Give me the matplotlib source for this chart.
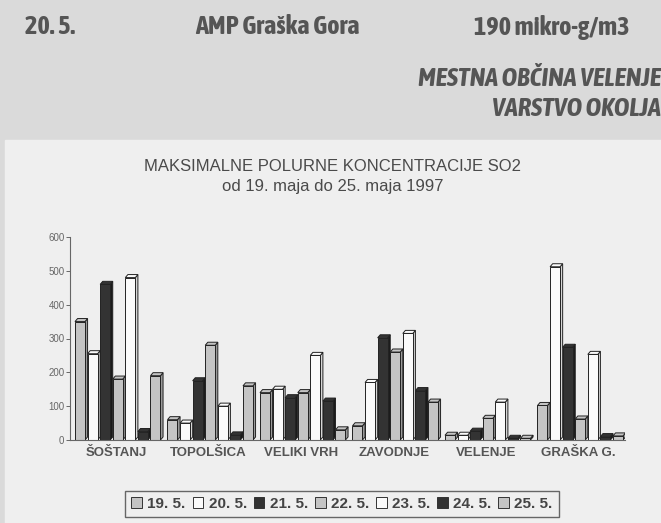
#!/usr/bin/env python3
"""
Maximum half-hour SO2 concentrations, 19-25 May 1997 (newspaper chart).
Pseudo-3D grouped bars drawn with plain matplotlib bars plus side/top faces.
"""

import matplotlib
matplotlib.use('Agg')
import matplotlib.pyplot as plt
from matplotlib.patches import Polygon, Rectangle, Patch
from matplotlib import font_manager

plt.rcParams['font.family'] = ['Liberation Sans', 'DejaVu Sans']

# condensed face for the headings, if one is installed
narrow = None
for f in font_manager.fontManager.ttflist:
    if ('Narrow' in f.name or 'Condensed' in f.name) and f.weight in ('bold', 700):
        narrow = f.name
        break
head_family = [narrow, 'Liberation Sans'] if narrow else ['DejaVu Sans']

# --- data ---
stations = ['ŠOŠTANJ', 'TOPOLŠICA', 'VELIKI VRH', 'ZAVODNJE', 'VELENJE', 'GRAŠKA G.']
days = ['19. 5.', '20. 5.', '21. 5.', '22. 5.', '23. 5.', '24. 5.', '25. 5.']
d19 = [350, 60, 140, 42, 14, 102]
d20 = [255, 50, 150, 170, 14, 512]
d21 = [460, 175, 125, 302, 26, 274]
d22 = [180, 280, 140, 260, 64, 62]
d23 = [480, 100, 250, 315, 112, 253]
d24 = [25, 15, 115, 146, 5, 10]
d25 = [190, 160, 30, 112, 5, 12]
series = [d19, d20, d21, d22, d23, d24, d25]
y_ticks = [0, 100, 200, 300, 400, 500, 600]

# fill colours per day (front face, side face)
face = ['#c4c4c4', '#fafafa', '#333333', '#c4c4c4', '#fafafa', '#333333', '#c4c4c4']
side = ['#9a9a9a', '#d6d6d6', '#1a1a1a', '#9a9a9a', '#d6d6d6', '#1a1a1a', '#9a9a9a']

bg_top = '#dadada'
bg_panel = '#efefef'
ink = '#4a4a4a'

fig = plt.figure(figsize=(6.61, 5.23), dpi=100, facecolor=bg_top)

# lighter panel holding the chart
fig.patches.append(Rectangle((5 / 661, 0), 1, (523 - 140) / 523,
                             transform=fig.transFigure, color=bg_panel, zorder=-5))

head = dict(fontsize=19, fontweight='bold', color='#555555', va='center',
            family=head_family, stretch='condensed')
fig.text(25 / 661, 1 - 27 / 523, '20. 5.', ha='left', **head)
fig.text(195 / 661, 1 - 27 / 523, 'AMP Graška Gora', ha='left', **head)
fig.text(474 / 661, 1 - 27 / 523, '190 mikro-g/m3', ha='left', **head)
fig.text(661 / 661, 1 - 79 / 523, 'MESTNA OBČINA VELENJE', ha='right', style='italic', **head)
fig.text(661 / 661, 1 - 109 / 523, 'VARSTVO OKOLJA', ha='right', style='italic', **head)

# chart titles
fig.text(332 / 661, 1 - 166 / 523, 'MAKSIMALNE POLURNE KONCENTRACIJE SO2',
         fontsize=12, color=ink, ha='center', va='center')
fig.text(333 / 661, 1 - 187 / 523, 'od 19. maja do 25. maja 1997',
         fontsize=12, color=ink, ha='center', va='center')

ax = fig.add_axes([70 / 661, 83 / 523, 555 / 661, 203 / 523])
ax.set_facecolor('none')
ax.set_xlim(-0.5, 5.5)
ax.set_ylim(0, 600)

w = 0.108      # front face width
step = 0.136   # distance between bars inside a group
dx = 0.028     # depth offset (x, data units)
dy = 9         # depth offset (y, data units)

z = 2
for i, vals in enumerate(series):
    offs = (i - 3) * step + 0.016
    for g, v in enumerate(vals):
        x = g + offs
        x0, x1 = x - w / 2, x + w / 2
        ax.bar(x, v, width=w, color=face[i], edgecolor='#222222',
               linewidth=0.7, zorder=z + 1)
        ax.add_patch(Polygon([(x1, 0), (x1 + dx, dy), (x1 + dx, v + dy), (x1, v)],
                             closed=True, facecolor=side[i], edgecolor='#222222',
                             linewidth=0.7, zorder=z))
        ax.add_patch(Polygon([(x0, v), (x0 + dx, v + dy), (x1 + dx, v + dy), (x1, v)],
                             closed=True, facecolor=face[i], edgecolor='#222222',
                             linewidth=0.7, zorder=z))
    z += 2

for s in ['top', 'right']:
    ax.spines[s].set_visible(False)
ax.spines['left'].set_color('#666666')
ax.spines['bottom'].set_color('#666666')
ax.spines['bottom'].set_zorder(50)

ax.set_yticks(y_ticks)
ax.set_yticklabels([str(t) for t in y_ticks], fontsize=7, color='#666666')
ax.tick_params(axis='y', length=3, width=0.7, color='#666666', pad=1)
ax.set_xticks(range(len(stations)))
ax.set_xticklabels(stations, fontsize=9.5, fontweight='bold', color='#555555')
ax.tick_params(axis='x', length=0, pad=5)

handles = [Patch(facecolor=face[i], edgecolor='#333333', linewidth=0.7)
           for i in range(len(days))]
leg = fig.legend(handles, days, loc='center', bbox_to_anchor=(342 / 661, 1 - 504 / 523),
                 ncol=7, frameon=True, fancybox=False,
                 handlelength=0.7, handleheight=0.7, handletextpad=0.35,
                 columnspacing=0.45, borderpad=0.4, labelcolor='#444444',
                 prop=dict(family='Liberation Sans', weight='bold', size=11))
leg.get_frame().set_edgecolor('#444444')
leg.get_frame().set_facecolor(bg_panel)
leg.get_frame().set_linewidth(1.0)

fig.savefig('out.png', dpi=100, facecolor=fig.get_facecolor())
